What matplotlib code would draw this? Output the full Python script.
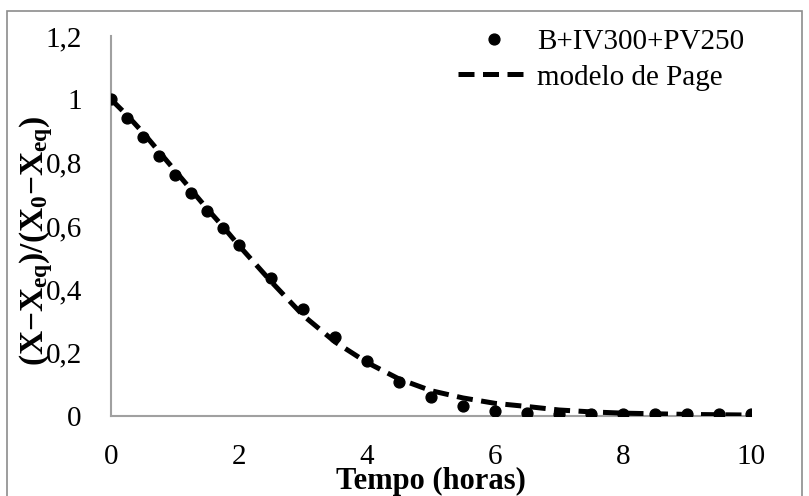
import numpy as np
import matplotlib
matplotlib.use("Agg")
import matplotlib.pyplot as plt
from matplotlib.patches import Rectangle

# Dados
tempo = [0, 0.25, 0.5, 0.75, 1, 1.25, 1.5, 1.75, 2, 2.5, 3, 3.5, 4,
         4.5, 5, 5.5, 6, 6.5, 7, 7.5, 8, 8.5, 9, 9.5, 10]
razao_exp = [1.0, 0.941, 0.881, 0.820, 0.760, 0.703, 0.647, 0.594, 0.540,
             0.435, 0.338, 0.250, 0.173, 0.106, 0.059, 0.033, 0.016, 0.009,
             0.006, 0.006, 0.005, 0.005, 0.005, 0.005, 0.005]
razao_page = [1.0, 0.950, 0.895, 0.835, 0.775, 0.715, 0.655, 0.598, 0.538,
              0.425, 0.318, 0.234, 0.169, 0.117, 0.080, 0.057, 0.040, 0.030,
              0.019, 0.013, 0.009, 0.007, 0.005, 0.004, 0.003]
xticks = [0, 2, 4, 6, 8, 10]
yticks = [0, 0.2, 0.4, 0.6, 0.8, 1.0, 1.2]
ytick_labels = ['0', '0,2', '0,4', '0,6', '0,8', '1', '1,2']

plt.rcParams['font.family'] = ['Liberation Serif', 'DejaVu Serif']
plt.rcParams['mathtext.fontset'] = 'custom'
plt.rcParams['mathtext.rm'] = 'Liberation Serif'
plt.rcParams['mathtext.it'] = 'Liberation Serif:italic'
plt.rcParams['mathtext.bf'] = 'Liberation Serif:bold'

fig = plt.figure(figsize=(8.09, 4.96), dpi=100)
ax = fig.add_axes([111 / 809, 80 / 496, 640 / 809, 380 / 496])

# Moldura do gráfico
fig.patches.append(Rectangle((7 / 809, -0.05), 795 / 809, 1.05 - 11 / 496,
                             transform=fig.transFigure, fill=False,
                             edgecolor='#8c8c8c', linewidth=1.2))

ax.plot(tempo, razao_exp, 'o', color='black', markersize=7.8,
        label='B+IV300+PV250', zorder=4)
ax.plot(tempo, razao_page, color='black', linewidth=3.6,
        dashes=(3.2, 1.7), label='modelo de Page', zorder=3)

ax.set_xlim(0, 10)
ax.set_ylim(0, 1.2)
ax.set_xticks(xticks)
ax.set_xticklabels([str(v) for v in xticks])
ax.set_yticks(yticks)
ax.set_yticklabels(ytick_labels)
ax.tick_params(axis='both', length=0, labelsize=21)
ax.tick_params(axis='y', pad=21)
ax.tick_params(axis='x', pad=20)

for s in ['top', 'right']:
    ax.spines[s].set_visible(False)
for s in ['left', 'bottom']:
    ax.spines[s].set_color('#a0a0a0')
    ax.spines[s].set_linewidth(1.5)

ax.set_xlabel('Tempo (horas)', fontsize=22, fontweight='bold', labelpad=-2)
ax.set_ylabel(r'$\mathbf{(X{-}X_{eq})/(X_0{-}X_{eq})}$', fontsize=24)
ax.yaxis.set_label_coords(-56 / 640, 0.46)

ax.legend(loc='upper left', bbox_to_anchor=(458 / 809, 1 - 29 / 496),
          bbox_transform=fig.transFigure, frameon=False, fontsize=21,
          handlelength=2.5, handletextpad=0.2, labelspacing=0.3,
          borderpad=0, borderaxespad=0)

fig.savefig('out.png', dpi=100)
